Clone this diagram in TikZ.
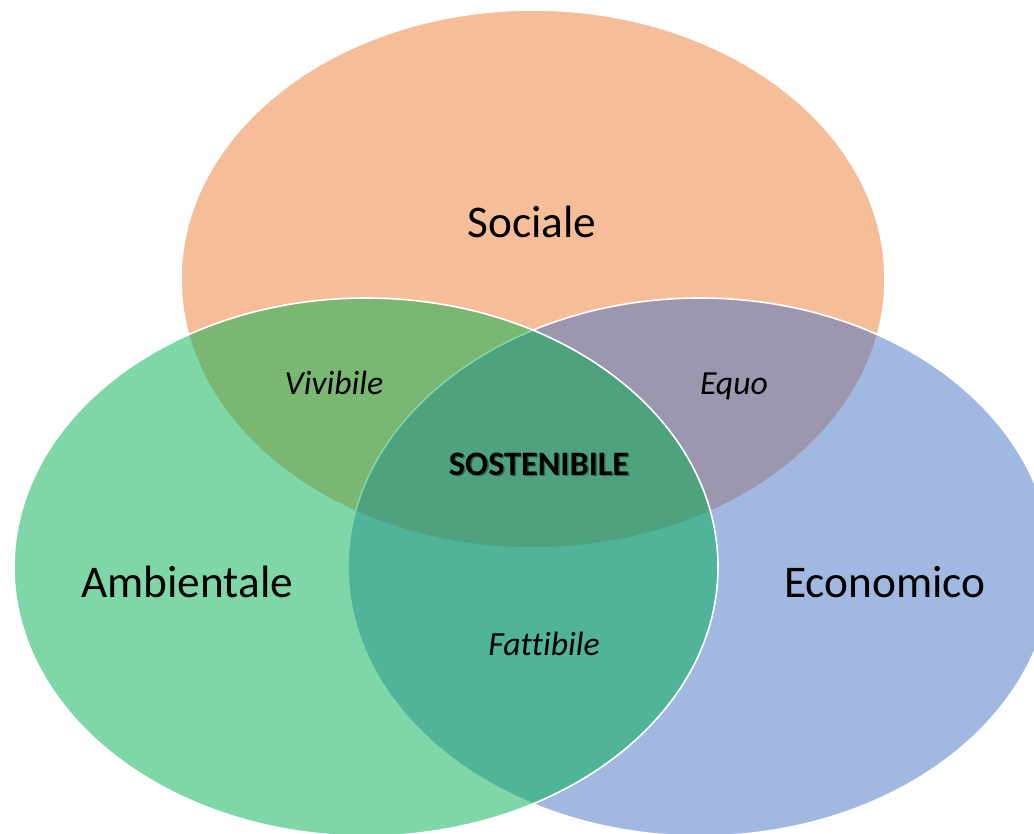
\documentclass[tikz,border=0pt]{standalone}
\usepackage{fontspec}
\setmainfont[Ligatures=NoCommon]{Carlito}
\usetikzlibrary{calc}

\definecolor{socorange}{HTML}{ED7D31}
\definecolor{ecoblue}{HTML}{4472C4}
\definecolor{ambgreen}{HTML}{00B050}

\begin{document}
\begin{tikzpicture}[x=.75pt, y=-.75pt]
    \tikzstyle{area} = [fill opacity=.5, draw=white, line width=1.2pt]
    \tikzstyle{big} = [anchor=base, inner sep=0pt, font=\fontsize{34}{40}\selectfont]
    \tikzstyle{small} = [anchor=base, inner sep=0pt, font=\fontsize{25.3}{30}\selectfont\itshape]

    \useasboundingbox (0, 0) rectangle (1034, 833);
    \clip (0, 0) rectangle (1034, 833);

    % Circles ------------------------------------------
    \coordinate (top) at (533, 279);
    \coordinate (left) at ($(top) + (-167, 288)$);
    \coordinate (right) at ($(top) + (167, 288)$);

    \filldraw[area, fill=socorange] (top) ellipse [x radius=352, y radius=269];
    \filldraw[area, fill=ecoblue] (right) ellipse [x radius=352, y radius=269];
    \filldraw[area, fill=ambgreen] (left) ellipse [x radius=352, y radius=269];
    % ---------------------------------------------------

    % Labels
    \node (soc) at (532, 237) [big] {Sociale};
    \node (amb) at (187, 597) [big] {Ambientale};
    \node (eco) at (885, 597) [big] {Economico};

    \node (viv) at (334, 394) [small] {Vivibile};
    \node (equo) at (734, 394) [small] {Equo};
    \node (fatt) at (544, 655) [small] {Fattibile};

    % centre
    \node (sost-shadow) at ($(539, 475) + (1.5, 1.5)$) [anchor=base, inner sep=0pt, text opacity=.35,
        font=\fontsize{25.7}{31}\selectfont\bfseries] {SOSTENIBILE};
    \node (sost) at (539, 475) [anchor=base, inner sep=0pt,
        font=\fontsize{25.7}{31}\selectfont\bfseries] {SOSTENIBILE};
\end{tikzpicture}
\end{document}
